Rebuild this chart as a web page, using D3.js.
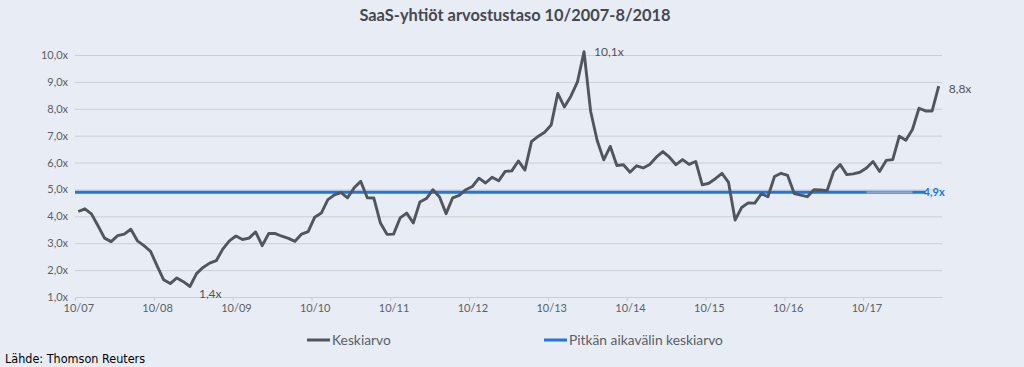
<!DOCTYPE html>
<html><head><meta charset="utf-8">
<script src="https://cdn.jsdelivr.net/npm/d3@7"></script>
<style>
html,body{margin:0;padding:0;background:#e8edf5;}
svg{display:block;}
</style></head>
<body>
<svg id="chart" width="1024" height="367"></svg>
<script>
// ---- data ----
const title = "SaaS-yhtiöt arvostustaso 10/2007-8/2018";
const valuation = [
 4.18,4.28,4.09,3.65,3.19,3.06,3.28,3.34,3.52,3.09,2.91,2.70,
 2.16,1.64,1.50,1.71,1.57,1.39,1.87,2.10,2.26,2.35,2.78,3.09,
 3.27,3.14,3.19,3.42,2.91,3.36,3.36,3.26,3.18,3.07,3.34,3.43,
 3.97,4.12,4.62,4.80,4.88,4.69,5.06,5.30,4.69,4.68,3.75,3.33,
 3.34,3.94,4.12,3.75,4.53,4.66,4.99,4.72,4.10,4.69,4.78,4.99,
 5.11,5.42,5.24,5.45,5.32,5.67,5.69,6.06,5.72,6.78,6.97,7.13,
 7.40,8.57,8.07,8.47,9.00,10.12,7.91,6.82,6.10,6.60,5.89,5.92,
 5.64,5.88,5.80,5.93,6.20,6.41,6.20,5.92,6.11,5.93,6.04,5.17,
 5.23,5.40,5.60,5.26,3.86,4.33,4.50,4.49,4.84,4.73,5.48,5.60,
 5.52,4.85,4.79,4.73,4.99,4.98,4.95,5.67,5.93,5.55,5.58,5.64,
 5.80,6.04,5.67,6.08,6.11,6.98,6.83,7.23,8.02,7.92,7.92,8.84
];
const longTermAvg = 4.9;
const yTicks = [1,2,3,4,5,6,7,8,9,10];
const xTickLabels = ["10/07","10/08","10/09","10/10","10/11","10/12","10/13","10/14","10/15","10/16","10/17"];
const seriesNames = ["Keskiarvo","Pitkän aikavälin keskiarvo"];
const annotations = [
  {label:"1,4x", value:1.39},
  {label:"10,1x", value:10.12},
  {label:"8,8x", value:8.84}
];
const source = "Lähde: Thomson Reuters";

// months as categories
const months = [];
for (let i = 0; i < valuation.length; i++) {
  const m = (9 + i) % 12 + 1, y = 7 + Math.floor((9 + i) / 12);
  months.push(m + "/" + String(y).padStart(2, "0"));
}
const data = months.map((c, i) => ({c, v: valuation[i]}));

// ---- layout ----
const svg = d3.select("#chart");
const L = 75, R = 942, T = 55, B = 297;
const x = d3.scalePoint().domain(months).range([L, R]).padding(0.5);
const step = x.step();
const y = d3.scaleLinear().domain([1, 10]).range([B, T]);

const gray = "#51555e", blue = "#1f74e6", grid = "#c9ced8", txt = "#5a5e66";
const font = "Lato, 'Open Sans', sans-serif";

svg.append("rect").attr("width",1024).attr("height",367).attr("fill","#e8edf5");

svg.append("text").attr("x",515).attr("y",21).attr("text-anchor","middle")
  .attr("font-family",font).attr("font-weight","bold").attr("font-size",16.4)
  .attr("fill","#45484f").text(title);

// gridlines + y axis labels
const yAxis = d3.axisLeft(y).tickValues(yTicks).tickSize(-(R - L))
  .tickFormat(d => d3.format(".1f")(d).replace(".", ",") + "x").tickPadding(7);
const gy = svg.append("g").attr("transform",`translate(${L},0)`).call(yAxis);
gy.select(".domain").remove();
gy.selectAll(".tick line").attr("stroke",grid).attr("stroke-width",1);
gy.selectAll(".tick text").attr("font-family",font).attr("font-size",11).attr("fill",txt);

// x axis
const tickCats = months.filter(m => m.startsWith("10/"));
const xAxis = d3.axisBottom(x).tickValues(tickCats).tickSize(0)
  .tickFormat((d, i) => xTickLabels[i]).tickPadding(7);
const gx = svg.append("g").attr("transform",`translate(0,${B})`).call(xAxis);
gx.select(".domain").attr("stroke",grid);
gx.selectAll(".tick text").attr("font-family",font).attr("font-size",11).attr("fill",txt);
gx.selectAll(".tick").append("line").attr("x1",-step/2).attr("x2",-step/2)
  .attr("y1",0).attr("y2",4).attr("stroke",grid);

// long-term average
svg.append("line").attr("x1",L).attr("x2",x(months[months.length-3]))
  .attr("y1",y(longTermAvg)).attr("y2",y(longTermAvg))
  .attr("stroke",blue).attr("stroke-width",3);
svg.append("line").attr("x1",x(months[120])).attr("x2",x(months[127]))
  .attr("y1",y(longTermAvg)).attr("y2",y(longTermAvg))
  .attr("stroke","#b7bdc8").attr("stroke-width",2).attr("opacity",0.7);
svg.append("text").attr("x",x(months[months.length-3]) - 2).attr("y",y(longTermAvg)+4)
  .attr("font-family",font).attr("font-size",11).attr("font-weight","bold")
  .attr("fill",blue).text(d3.format(".1f")(longTermAvg).replace(".",",")+"x");

// main line
svg.append("path").datum(data)
  .attr("fill","none").attr("stroke",gray).attr("stroke-width",2.9)
  .attr("stroke-linejoin","round")
  .attr("d", d3.line().x(d => x(d.c)).y(d => y(d.v)));

// annotations
const minI = valuation.indexOf(d3.min(valuation));
const maxI = valuation.indexOf(d3.max(valuation));
const lastI = valuation.length - 1;
const ann = [
  {i:minI, dx:9, dy:8, a:annotations[0]},
  {i:maxI, dx:10, dy:1, a:annotations[1]},
  {i:lastI, dx:10, dy:4, a:annotations[2]}
];
ann.forEach(o => {
  svg.append("text").attr("x", x(months[o.i]) + o.dx).attr("y", y(o.a.value) + o.dy)
    .attr("font-family",font).attr("font-size",12).attr("fill","#505359")
    .attr("dominant-baseline","middle").text(o.a.label);
});

// legend
const leg = [{n:seriesNames[0], c:gray, x:307},{n:seriesNames[1], c:blue, x:544}];
leg.forEach(l => {
  svg.append("line").attr("x1",l.x).attr("x2",l.x+23).attr("y1",340).attr("y2",340)
    .attr("stroke",l.c).attr("stroke-width",3);
  svg.append("text").attr("x",l.x+25).attr("y",344.5).attr("font-family",font)
    .attr("font-size",13.8).attr("fill",txt).text(l.n);
});

svg.append("text").attr("x",5).attr("y",363).attr("font-family","'Liberation Sans Narrow', 'DejaVu Sans Condensed', sans-serif")
  .attr("font-size",12.5).attr("fill","#000").text(source);
</script>
</body></html>
